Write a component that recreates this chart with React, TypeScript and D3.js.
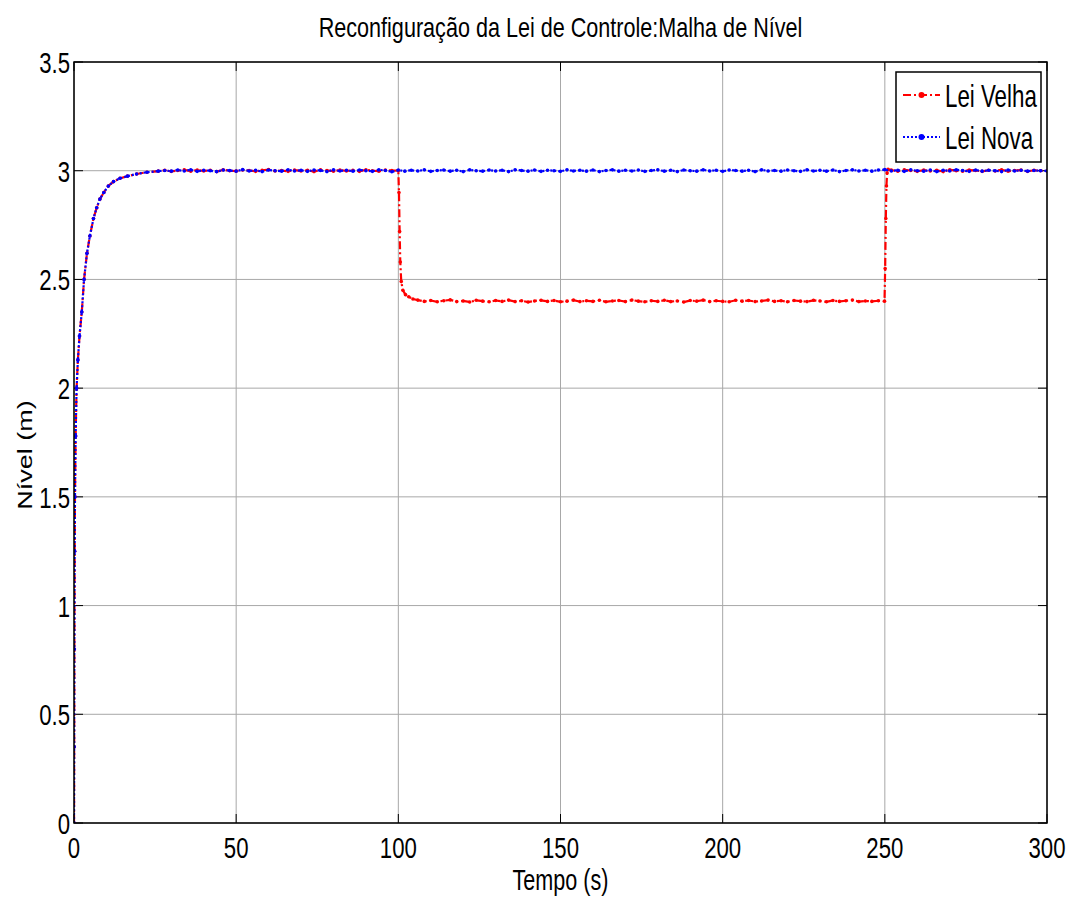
import React from "react";
import * as d3 from "d3";

// ---- Data ----
const xTicks = [0, 50, 100, 150, 200, 250, 300];
const yTicks = [0, 0.5, 1, 1.5, 2, 2.5, 3, 3.5];
const yTickLabels = ["0", "0.5", "1", "1.5", "2", "2.5", "3", "3.5"];

// initial rise (shared by both control laws)
const riseTime = [0, 0.05, 0.1, 0.2, 0.3, 0.5, 0.8, 1.2, 1.7, 2.4, 3.1, 4.0, 4.9, 6.0, 7.0, 8.0, 9.2, 10.6, 12.2, 14.2, 16.5, 19.3, 22.5, 26];
const riseLevel = [0, 0.35, 0.8, 1.25, 1.5, 1.78, 2.0, 2.13, 2.24, 2.35, 2.5, 2.62, 2.7, 2.78, 2.83, 2.87, 2.9, 2.93, 2.95, 2.965, 2.975, 2.985, 2.993, 2.998];

// Lei Nova: samples every 2 s from t=28 to t=300
const novaFlatStart = 28;
const novaFlatLevel = [
  3.001, 2.998, 3.003, 2.999, 3.004, 2.997, 3.002, 3.0, 2.996, 3.003,
  3.001, 2.998, 3.005, 2.999, 3.002, 2.996, 3.003, 3.0, 2.998, 3.004,
  2.999, 3.002, 2.997, 3.003, 3.001, 2.996, 3.004, 2.999, 3.002, 2.998,
  3.003, 3.0, 2.997, 3.004, 3.001, 2.995, 3.003, 2.998, 3.002, 2.999,
  3.004, 2.997, 3.001, 3.003, 2.998, 3.002, 2.996, 3.004, 3.0, 2.998,
  3.003, 2.999, 3.002, 2.996, 3.004, 3.001, 2.998, 3.003, 2.997, 3.002,
  3.0, 2.997, 3.004, 2.999, 3.002, 2.998, 3.003, 2.996, 3.001, 3.004,
  2.998, 3.002, 2.999, 3.003, 2.997, 3.001, 3.004, 2.998, 3.002, 2.996,
  3.003, 3.0, 2.998, 3.004, 2.999, 3.002, 2.997, 3.003, 3.001, 2.998,
  3.002, 2.996, 3.004, 2.999, 3.001, 2.998, 3.003, 3.0, 2.997, 3.004,
  2.999, 3.002, 2.998, 3.003, 2.996, 3.001, 3.004, 2.999, 3.002, 2.998,
  3.003, 3.005, 2.999, 3.002, 2.997, 3.004, 3.0, 2.998, 3.003, 2.996,
  3.002, 2.999, 3.004, 3.001, 2.997, 3.003, 2.998, 3.002, 3.0, 2.996,
  3.003, 2.999, 3.002, 2.998, 3.001, 3.0, 2.999,
];

// Lei Velha
const velhaFlat1Start = 28; // every 2 s up to 98
const velhaFlat1Level = [
  3.002, 2.997, 3.001, 3.004, 2.998, 3.003, 2.999, 3.002, 2.996, 3.004,
  3.0, 2.998, 3.003, 3.001, 2.997, 3.002, 3.005, 2.999, 3.001, 2.997,
  3.003, 2.999, 3.002, 2.996, 3.004, 3.001, 2.998, 3.003, 2.999, 3.002,
  2.997, 3.004, 3.0, 2.998, 3.003, 3.001,
];
const dropTime = [100, 100.2, 100.4, 100.6, 100.9, 101.4, 102.2, 103.2, 104.5];
const dropLevel = [3.0, 2.9, 2.72, 2.58, 2.49, 2.45, 2.43, 2.42, 2.41];
const velhaFlat2Start = 106; // every 2 s up to 248
const velhaFlat2Level = [
  2.405, 2.399, 2.403, 2.397, 2.402, 2.406, 2.398, 2.401, 2.396, 2.404,
  2.4, 2.397, 2.403, 2.399, 2.405, 2.398, 2.402, 2.396, 2.401, 2.404,
  2.399, 2.403, 2.397, 2.4, 2.405, 2.398, 2.402, 2.399, 2.404, 2.397,
  2.401, 2.403, 2.398, 2.405, 2.4, 2.397, 2.402, 2.399, 2.404, 2.398,
  2.401, 2.396, 2.403, 2.4, 2.405, 2.398, 2.402, 2.399, 2.397, 2.404,
  2.4, 2.403, 2.398, 2.401, 2.405, 2.399, 2.402, 2.397, 2.403, 2.4,
  2.398, 2.404, 2.401, 2.397, 2.403, 2.399, 2.402, 2.405, 2.398, 2.401,
  2.399, 2.402,
];
const riseBackTime = [249.9, 250.1, 250.3, 250.5, 250.7, 251, 252];
const riseBackLevel = [2.4, 2.55, 2.78, 2.93, 2.99, 3.006, 3.003];
const velhaFlat3Start = 254; // every 2 s up to 300
const velhaFlat3Level = [
  2.998, 3.004, 3.001, 2.997, 3.003, 2.999, 3.002, 2.996, 3.004, 3.0,
  2.998, 3.003, 3.001, 2.997, 3.002, 2.999, 3.004, 2.998, 3.001, 3.003,
  2.997, 3.002, 3.0, 2.999,
];
const sampleStep = 2;

type Pt = [number, number];
const zipPts = (t: number[], v: number[]): Pt[] => t.map((tt, i) => [tt, v[i]]);
const flatPts = (start: number, v: number[]): Pt[] => v.map((vv, i) => [start + i * sampleStep, vv]);

const novaData: Pt[] = [...zipPts(riseTime, riseLevel), ...flatPts(novaFlatStart, novaFlatLevel)];
const velhaData: Pt[] = [
  ...zipPts(riseTime, riseLevel),
  ...flatPts(velhaFlat1Start, velhaFlat1Level),
  ...zipPts(dropTime, dropLevel),
  ...flatPts(velhaFlat2Start, velhaFlat2Level),
  ...zipPts(riseBackTime, riseBackLevel),
  ...flatPts(velhaFlat3Start, velhaFlat3Level),
];

const W = 1071;
const H = 901;
const L = 74, R = 1047, T = 62, B = 823;
const FONT = "'Liberation Sans', Arial, Helvetica, sans-serif";

export default function App() {
  const x = d3.scaleLinear().domain([0, 300]).range([L, R]);
  const y = d3.scaleLinear().domain([0, 3.5]).range([B, T]);
  const line = d3.line<Pt>().x((d) => x(d[0])).y((d) => y(d[1]));
  const tickLen = 9;
  const sx = 0.74;

  const CText = (props: { x: number; y: number; s: number; anchor: string; size: number; children: string }) => (
    <g transform={`translate(${props.x},${props.y}) scale(${props.s},1)`}>
      <text x={0} y={0} textAnchor={props.anchor} fontSize={props.size} fontFamily={FONT} fill="#000">
        {props.children}
      </text>
    </g>
  );

  return (
    <svg width={W} height={H} style={{ position: "absolute", left: 0, top: 0, background: "#fff" }}>
      <rect x={0} y={0} width={W} height={H} fill="#fff" />
      {/* grid */}
      {xTicks.map((t) => (
        <line key={"gx" + t} x1={x(t)} x2={x(t)} y1={T} y2={B} stroke="#a8a8a8" strokeWidth={1} />
      ))}
      {yTicks.map((t) => (
        <line key={"gy" + t} x1={L} x2={R} y1={y(t)} y2={y(t)} stroke="#a8a8a8" strokeWidth={1} />
      ))}
      {/* ticks */}
      {xTicks.map((t) => (
        <g key={"tx" + t}>
          <line x1={x(t)} x2={x(t)} y1={B} y2={B - tickLen} stroke="#000" />
          <line x1={x(t)} x2={x(t)} y1={T} y2={T + tickLen} stroke="#000" />
        </g>
      ))}
      {yTicks.map((t) => (
        <g key={"ty" + t}>
          <line x1={L} x2={L + tickLen} y1={y(t)} y2={y(t)} stroke="#000" />
          <line x1={R} x2={R - tickLen} y1={y(t)} y2={y(t)} stroke="#000" />
        </g>
      ))}
      {/* series */}
      <defs>
        <clipPath id="clip">
          <rect x={L} y={T} width={R - L} height={B - T} />
        </clipPath>
      </defs>
      <g clipPath="url(#clip)">
        <path d={line(velhaData) || ""} fill="none" stroke="#ff0000" strokeWidth={2.2} strokeDasharray="8,3,2,3" />
        {velhaData.map((d, i) => (
          <circle key={"vm" + i} cx={x(d[0])} cy={y(d[1])} r={1.8} fill="#ff0000" />
        ))}
        <path d={line(novaData) || ""} fill="none" stroke="#0000ff" strokeWidth={2.2} strokeDasharray="2,2" />
        {novaData.map((d, i) => (
          <circle key={"nm" + i} cx={x(d[0])} cy={y(d[1])} r={1.8} fill="#0000ff" />
        ))}
      </g>
      {/* axes box */}
      <rect x={L} y={T} width={R - L} height={B - T} fill="none" stroke="#000" strokeWidth={1.5} />
      {/* tick labels */}
      {xTicks.map((t) => (
        <CText key={"lx" + t} x={x(t)} y={B + 35} s={sx} anchor="middle" size={30}>
          {String(t)}
        </CText>
      ))}
      {yTicks.map((t, i) => (
        <CText key={"ly" + t} x={L - 4} y={y(t) + 11} s={sx} anchor="end" size={30}>
          {yTickLabels[i]}
        </CText>
      ))}
      {/* axis labels */}
      <CText x={(L + R) / 2} y={890} s={0.72} anchor="middle" size={30}>
        Tempo (s)
      </CText>
      <g transform={`translate(32,455) scale(0.75,1) rotate(-90)`}>
        <text x={0} y={0} textAnchor="middle" fontSize={27} fontFamily={FONT} fill="#000">
          Nível (m)
        </text>
      </g>
      {/* title */}
      <CText x={(L + R) / 2} y={37} s={0.8} anchor="middle" size={27}>
        Reconfiguração da Lei de Controle:Malha de Nível
      </CText>
      {/* legend */}
      <g>
        <rect x={896} y={72} width={145} height={90} fill="#fff" stroke="#000" strokeWidth={1.5} />
        <line x1={903} x2={940} y1={95} y2={95} stroke="#ff0000" strokeWidth={2} strokeDasharray="8,3,2,3" />
        <circle cx={921.5} cy={95} r={3} fill="#ff0000" />
        <line x1={903} x2={940} y1={137} y2={137} stroke="#0000ff" strokeWidth={2} strokeDasharray="2,2" />
        <circle cx={921.5} cy={137} r={3} fill="#0000ff" />
        <CText x={945} y={107} s={0.72} anchor="start" size={31}>
          Lei Velha
        </CText>
        <CText x={945} y={149} s={0.72} anchor="start" size={31}>
          Lei Nova
        </CText>
      </g>
    </svg>
  );
}
